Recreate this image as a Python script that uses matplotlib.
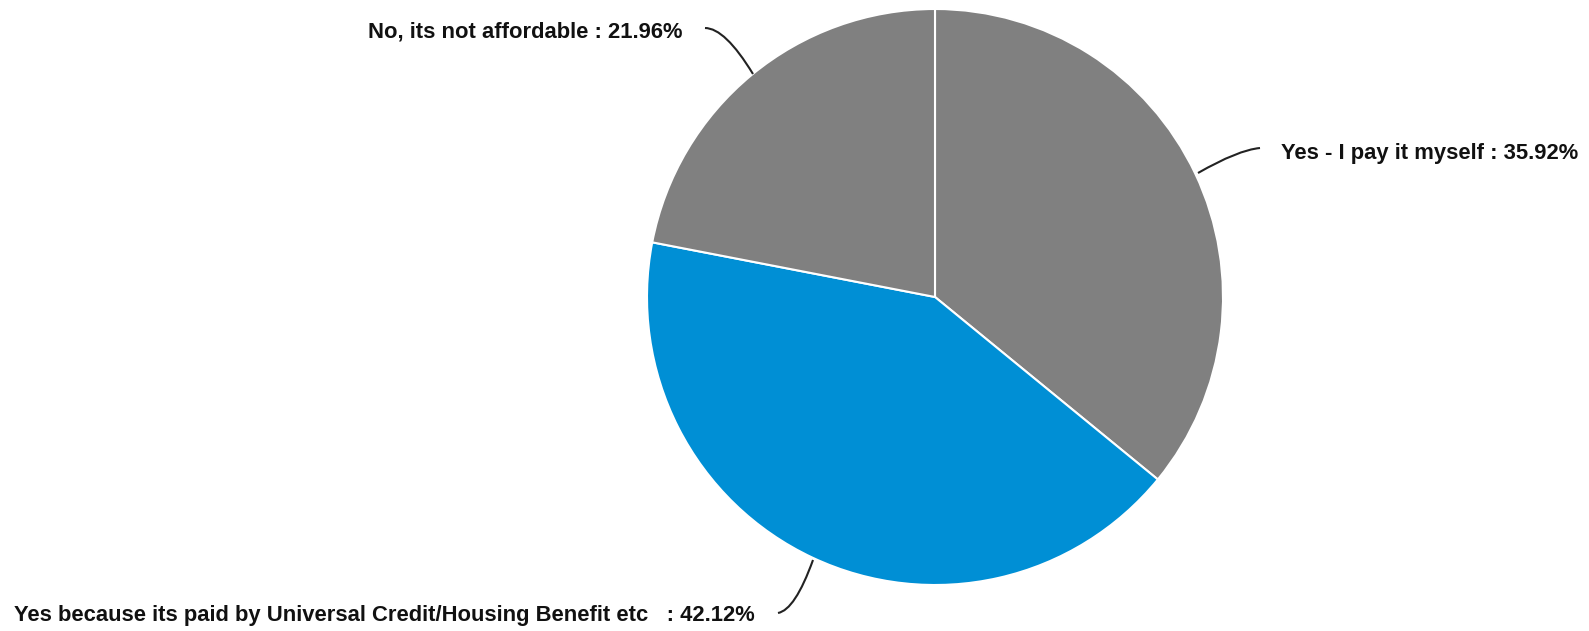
import matplotlib
matplotlib.use("Agg")
import matplotlib.pyplot as plt
from matplotlib.path import Path
from matplotlib.patches import PathPatch

labels = ["Yes - I pay it myself", "Yes because its paid by Universal Credit/Housing Benefit etc  ", "No, its not affordable"]
values = [35.92, 42.12, 21.96]
colors = ["#808080", "#008fd5", "#808080"]

W, H = 1589, 631
fig = plt.figure(figsize=(W / 100, H / 100), dpi=100)
plt.rcParams['font.family'] = ['Liberation Sans', 'DejaVu Sans']

cx, cy, r = 935, 297, 288
ax = fig.add_axes([(cx - r) / W, (H - cy - r) / H, 2 * r / W, 2 * r / H])
ax.pie(values, colors=colors, startangle=90, counterclock=False,
       wedgeprops=dict(edgecolor="white", linewidth=1.5))
ax.set_xlim(-1, 1)
ax.set_ylim(-1, 1)
ax.set_aspect("auto")
ax.axis("off")

def fx(x):
    return x / W

def fy(y):
    return 1 - y / H

txt_kw = dict(fontsize=15.8, fontweight="bold", color="#111111", va="center")
texts = [f"{l} : {v:.2f}%" for l, v in zip(labels, values)]
fig.text(fx(1281), fy(153), texts[0], ha="left", **txt_kw)
fig.text(fx(755), fy(616), texts[1], ha="right", **txt_kw)
fig.text(fx(683), fy(32), texts[2], ha="right", **txt_kw)

curves = [
    [(1260, 148), (1238, 150), (1198, 173)],
    [(813, 560), (795, 610), (778, 613)],
    [(705, 28), (725, 28), (753, 74)],
]
for pts in curves:
    verts = [(fx(x), fy(y)) for x, y in pts]
    p = Path(verts, [Path.MOVETO, Path.CURVE3, Path.CURVE3])
    fig.patches.append(PathPatch(p, transform=fig.transFigure, facecolor="none",
                                 edgecolor="#222222", linewidth=1.5))

fig.savefig("out.png", dpi=100, facecolor="white")
